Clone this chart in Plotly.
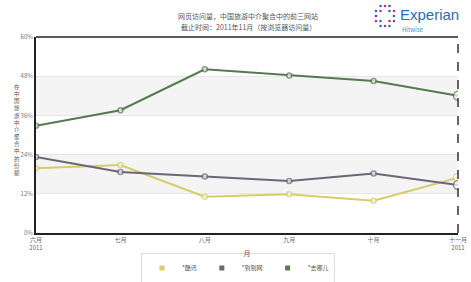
import plotly.graph_objects as go

months = ["六月<br>2011", "七月", "八月", "九月", "十月", "十一月<br>2011"]
series_names = ["*酷讯", "*到到网", "*去哪儿"]
kuxun = [19.8, 20.8, 11.1, 11.9, 9.9, 16.9]
daodao = [23.3, 18.7, 17.3, 15.9, 18.2, 14.7]
qunar = [32.8, 37.6, 50.1, 48.2, 46.5, 42.0]
colors = ["#d6cd6a", "#6c6678", "#547a4e"]
y_ticks = [0, 12, 24, 36, 48, 60]
y_labels = ["0%", "12%", "24%", "36%", "48%", "60%"]

W, H = 471, 282
L, R, T, B = 36, 13, 37, 49
PW, PH = W - L - R, H - T - B


def px(xp):
    return (xp - L) / PW


def py(yp):
    return (H - B - yp) / PH


fig = go.Figure()
x = list(range(len(months)))
for name, vals, c in zip(series_names, [kuxun, daodao, qunar], colors):
    sizes = [5] * (len(vals) - 1) + [9]
    fig.add_trace(go.Scatter(
        x=x, y=vals, mode="lines+markers", name=name, showlegend=False,
        line=dict(color=c, width=2),
        marker=dict(size=sizes, color="white", line=dict(color=c, width=1.5)),
    ))
    fig.add_trace(go.Scatter(
        x=[None], y=[None], mode="markers", name=name, showlegend=True,
        marker=dict(symbol="square", size=5, color=c),
    ))

shapes = []
for lo, hi in [(12, 24), (36, 48)]:
    shapes.append(dict(type="rect", xref="x domain", yref="y", x0=0, x1=1, y0=lo, y1=hi,
                       fillcolor="#f4f4f4", line=dict(width=0), layer="below"))
shapes.append(dict(type="line", xref="x domain", yref="y domain", x0=0, x1=1, y0=1, y1=1,
                   line=dict(color="#222", width=1.5)))
shapes.append(dict(type="line", xref="x domain", yref="y domain", x0=1, x1=1, y0=0, y1=1,
                   line=dict(color="#333", width=1.5, dash="dash")))

# Experian logo dots (5x5 ring pattern)
dot_cols = ["#2a6db5", "#c0317a", "#7b3f98", "#2a6db5", "#c0317a"]
k = 0
for i in range(5):
    for j in range(5):
        ring = i in (0, 4) or j in (0, 4)
        inner = i in (1, 3) and j in (1, 3)
        if not (ring or inner):
            continue
        if (i, j) in [(0, 0), (0, 4), (4, 0), (4, 4)]:
            continue
        cx = 376 + j * 4.5
        cy = 6 + i * 5
        shapes.append(dict(type="circle", xref="paper", yref="paper",
                           x0=px(cx - 1.3), x1=px(cx + 1.3),
                           y0=py(cy + 1.3), y1=py(cy - 1.3),
                           fillcolor=dot_cols[k % len(dot_cols)], line=dict(width=0)))
        k += 1

annotations = [
    dict(text="网页访问量，中国旅游中介聚合中的前三网站", x=px(248), y=py(16),
         xref="paper", yref="paper", yanchor="middle", showarrow=False,
         font=dict(size=7, color="#555")),
    dict(text="截止时间：2011年11月（按浏览器访问量）", x=px(248), y=py(27),
         xref="paper", yref="paper", yanchor="middle", showarrow=False,
         font=dict(size=7, color="#555")),
    dict(text="Experian", x=px(398), y=py(15), xref="paper", yref="paper",
         xanchor="left", yanchor="middle", showarrow=False,
         font=dict(size=15, color="#2a6db5", family="Arial")),
    dict(text="Hitwise", x=px(400), y=py(30), xref="paper", yref="paper",
         xanchor="left", yanchor="middle", showarrow=False,
         font=dict(size=6, color="#2a9ad0")),
    dict(text="<br>".join(list("在中国旅游中介聚合中的份额")), x=px(12), y=py(130),
         xref="paper", yref="paper", yanchor="middle", showarrow=False,
         font=dict(size=5.5, color="#555")),
]

fig.update_layout(
    width=W, height=H,
    margin=dict(l=L, r=R, t=T, b=B, autoexpand=False),
    paper_bgcolor="white", plot_bgcolor="white",
    font=dict(family="Noto Sans CJK SC", size=7, color="#666"),
    shapes=shapes, annotations=annotations,
    showlegend=True,
    legend=dict(orientation="h", x=px(238), xanchor="center", y=py(268), yanchor="middle",
                bordercolor="#ddd", borderwidth=1, font=dict(size=6, color="#555"),
                itemwidth=30, tracegroupgap=0),
    xaxis=dict(tickvals=x, ticktext=months, range=[0, 5], showgrid=False,
               showline=True, linecolor="#222", linewidth=2, ticks="",
               title=dict(text="月", font=dict(size=7, color="#555"), standoff=0),
               tickfont=dict(size=6, color="#666"), zeroline=False),
    yaxis=dict(tickvals=y_ticks, ticktext=y_labels, range=[0, 60],
               showgrid=True, gridcolor="#e6e6e6", gridwidth=1,
               showline=True, linecolor="#222", linewidth=2, zeroline=False,
               tickfont=dict(size=6, color="#777"), ticks=""),
)

fig.write_html("out.html")
